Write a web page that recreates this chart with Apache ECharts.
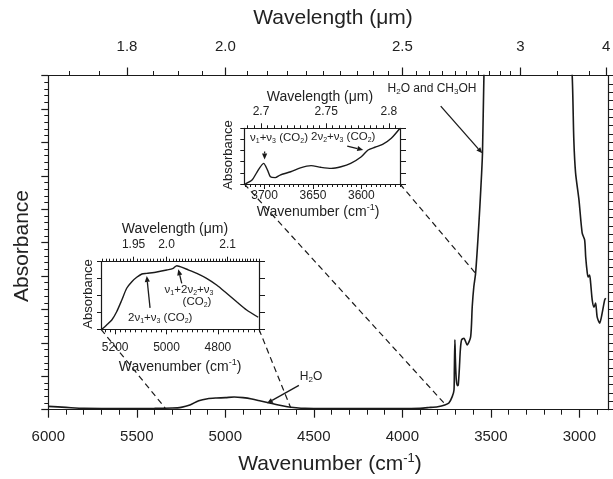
<!DOCTYPE html>
<html><head><meta charset="utf-8">
<script src="https://cdn.jsdelivr.net/npm/echarts@6/dist/echarts.min.js"></script>
<style>html,body{margin:0;padding:0;background:#fff}#c{width:613px;height:479px}</style>
</head><body><div id="c"></div>
<script>
// ---------------- data ----------------
const mainWavenumber = [6000,5900,5800,5600,5400,5300,5250,5200,5150,5100,5050,5000,4950,4900,4850,4800,4750,4700,4650,4600,4550,4500,4200,4000,3900,3850,3800,3760,3737,3718,3708,3706,3703,3700,3695,3688,3684,3678,3672,3665,3652,3634,3614,3605,3596,3586,3573,3562,3552,3547,3539,3530,3060,3040,3031,3021,3002,2984,2970,2964,2955,2950,2942,2936,2927,2917,2908,2899,2885,2871,2857,2851];
const mainAbsorbance = [0.010,0.007,0.004,0.0035,0.004,0.005,0.007,0.014,0.027,0.033,0.035,0.036,0.038,0.036,0.032,0.026,0.020,0.014,0.009,0.006,0.004,0.0035,0.0035,0.0035,0.0045,0.0065,0.009,0.014,0.020,0.039,0.059,0.120,0.209,0.150,0.090,0.072,0.074,0.120,0.180,0.209,0.214,0.194,0.218,0.308,0.368,0.408,0.508,0.607,0.707,0.768,0.996,1.15,1.15,0.996,0.807,0.708,0.628,0.529,0.508,0.457,0.409,0.397,0.403,0.379,0.328,0.307,0.319,0.277,0.259,0.289,0.328,0.334];

const inset1Wavenumber = [3720,3713,3708,3701,3697,3694,3689,3684,3673,3663,3652,3642,3631,3621,3611,3600,3593,3586,3578,3569,3560];
const inset1Absorbance = [0.0,0.07,0.21,0.37,0.25,0.13,0.115,0.16,0.22,0.29,0.33,0.30,0.28,0.31,0.37,0.49,0.61,0.66,0.71,0.82,1.0];

const inset2Wavenumber = [5252,5233,5213,5194,5174,5155,5135,5116,5096,5077,5038,4999,4974,4960,4947,4921,4882,4844,4805,4766,4727,4688,4643];
const inset2Absorbance = [0.0,0.064,0.138,0.26,0.433,0.607,0.704,0.769,0.818,0.828,0.848,0.877,0.902,0.941,0.926,0.888,0.828,0.754,0.655,0.533,0.408,0.286,0.178];

// tick labels
const mainBottomTicks = [6000,5500,5000,4500,4000,3500,3000];
const mainTopLabels = ['1.8','2.0','2.5','3','4'];
const mainTopWavelength = [1.8,2.0,2.5,3,4];
const mainTopMinorWavelength = [1.7,1.75,1.85,1.9,1.95,2.05,2.1,2.15,2.2,2.25,2.3,2.35,2.4,2.45,2.55,2.6,2.65,2.7,2.75,2.8,2.85,2.9,2.95,3.2,3.4];
const inset1BottomTicks = [3700,3650,3600];
const inset1TopLabels = ['2.7','2.75','2.8'];
const inset1TopWavelength = [2.7,2.75,2.8];
const inset2BottomTicks = [5200,5000,4800];
const inset2TopLabels = ['1.95','2.0','2.1'];
const inset2TopWavelength = [1.95,2.0,2.1];

// axis extents (cm-1)
const mainRange = [2834, 6000];
const topEdgeWn = 2848;
const inset1Range = [3560, 3721];
const inset2Range = [4640, 5255];

// ---------------- helpers ----------------
const FONT = '"Liberation Sans", Arial, sans-serif';
const INK = '#1a1a1a';
function steps(a, b, s) { const r = []; for (let v = a; v <= b + 1e-9; v += s) r.push(+v.toFixed(6)); return r; }
function nearestLabel(values, labels) {
  return function (v) { let bi = 0, bd = Infinity; values.forEach((w, i) => { const d = Math.abs(w - v); if (d < bd) { bd = d; bi = i; } }); return labels[bi]; };
}
const wl2wn = l => 10000 / l;
function inRange(arr, r) { return arr.filter(v => v >= r[0] && v <= r[1]); }

function xAxis(grid, range, pos, o) {
  const base = {
    type: 'value', gridIndex: grid, min: range[0], max: range[1], inverse: true, position: pos,
    splitLine: { show: false },
    axisLine: { show: true, onZero: false, lineStyle: { color: INK, width: 1.2 } },
    axisTick: { show: false }, axisLabel: { show: false }
  };
  return Object.assign(base, o);
}
function yAxis(grid, pos, o) {
  const base = {
    type: 'value', gridIndex: grid, min: 0, max: 1, position: pos,
    splitLine: { show: false },
    axisLine: { show: true, onZero: false, lineStyle: { color: INK, width: 1.2 } },
    axisTick: { show: false }, axisLabel: { show: false }
  };
  return Object.assign(base, o);
}
function tick(values, len, w) { return { show: true, customValues: values, length: len, inside: false, lineStyle: { color: INK, width: w || 1 } }; }

// derived tick positions
const mainTopWn = mainTopWavelength.map(l => Math.max(wl2wn(l), topEdgeWn));
const mainTopMinorWn = inRange(mainTopMinorWavelength.map(wl2wn), mainRange);
const mainBottomMinor = inRange(steps(2900, 6000, 100), mainRange);
const in1TopWn = inset1TopWavelength.map(wl2wn);
const in1TopMinorWn = inRange(steps(2.69, 2.81, 0.005).map(wl2wn), inset1Range);
const in1BottomMinor = inRange(steps(3560, 3720, 5), inset1Range);
const in2TopWn = inset2TopWavelength.map(wl2wn);
const in2TopMinorWn = inRange(steps(1.9, 2.16, 0.005).map(wl2wn), inset2Range);
const in2BottomMinor = inRange(steps(4640, 5240, 20), inset2Range);

const gridBase = { containLabel: false, outerBoundsMode: 'none' };
const grids = [
  Object.assign({ left: 48.3, top: 75.5, width: 560.4, height: 334.2 }, gridBase),
  Object.assign({ left: 244.3, top: 128.3, width: 155.7, height: 55.7 }, gridBase),
  Object.assign({ left: 101, top: 261.7, width: 158, height: 67.6 }, gridBase)
];

const lblMain = { fontSize: 15, fontFamily: FONT, color: '#222' };
const lblIn = { fontSize: 12, fontFamily: FONT, color: '#222' };

const xAxes = [
  // main
  xAxis(0, mainRange, 'bottom', { axisTick: tick(mainBottomTicks, 8, 1.2), axisLabel: Object.assign({ show: true, customValues: mainBottomTicks, margin: 20, formatter: v => String(Math.round(v)) }, lblMain) }),
  xAxis(0, mainRange, 'bottom', { axisLine: { show: false, onZero: false }, axisTick: tick(mainBottomMinor, 5, 1) }),
  xAxis(0, mainRange, 'top', { axisTick: tick(mainTopWn, 8, 1.2), axisLabel: Object.assign({ show: true, customValues: mainTopWn, margin: 21, formatter: nearestLabel(mainTopWn, mainTopLabels) }, lblMain) }),
  xAxis(0, mainRange, 'top', { axisLine: { show: false, onZero: false }, axisTick: tick(mainTopMinorWn, 4.5, 1) }),
  // inset 1
  xAxis(1, inset1Range, 'bottom', { axisTick: tick(inset1BottomTicks, 5, 1), axisLabel: Object.assign({ show: true, customValues: inset1BottomTicks, margin: 6, formatter: v => String(Math.round(v)) }, lblIn) }),
  xAxis(1, inset1Range, 'bottom', { axisLine: { show: false, onZero: false }, axisTick: tick(in1BottomMinor, 3, 1) }),
  xAxis(1, inset1Range, 'top', { axisTick: tick(in1TopWn, 5, 1), axisLabel: Object.assign({ show: true, customValues: in1TopWn, margin: 11, formatter: nearestLabel(in1TopWn, inset1TopLabels) }, lblIn) }),
  xAxis(1, inset1Range, 'top', { axisLine: { show: false, onZero: false }, axisTick: tick(in1TopMinorWn, 3, 1) }),
  // inset 2
  xAxis(2, inset2Range, 'bottom', { axisTick: tick(inset2BottomTicks, 5, 1), axisLabel: Object.assign({ show: true, customValues: inset2BottomTicks, margin: 12, formatter: v => String(Math.round(v)) }, lblIn) }),
  xAxis(2, inset2Range, 'bottom', { axisLine: { show: false, onZero: false }, axisTick: tick(in2BottomMinor, 3, 1) }),
  xAxis(2, inset2Range, 'top', { axisTick: tick(in2TopWn, 5, 1), axisLabel: Object.assign({ show: true, customValues: in2TopWn, margin: 11, formatter: nearestLabel(in2TopWn, inset2TopLabels) }, lblIn) }),
  xAxis(2, inset2Range, 'top', { axisLine: { show: false, onZero: false }, axisTick: tick(in2TopMinorWn, 3, 1) })
];

const yAxes = [
  yAxis(0, 'left', { interval: 0.1, axisTick: { show: true, length: 7, lineStyle: { color: INK, width: 1.2 } }, minorTick: { show: true, splitNumber: 5, length: 4, lineStyle: { color: INK, width: 1 } } }),
  yAxis(0, 'right', { interval: 0.025, axisTick: { show: true, length: 5, lineStyle: { color: INK, width: 1 } } }),
  yAxis(1, 'left', { interval: 0.2, axisTick: { show: true, length: 4, lineStyle: { color: INK, width: 1 } } }),
  yAxis(1, 'right', { interval: 0.2, axisTick: { show: true, length: 6, lineStyle: { color: INK, width: 1 } } }),
  yAxis(2, 'left', { interval: 0.25, axisTick: { show: true, length: 4, lineStyle: { color: INK, width: 1 } } }),
  yAxis(2, 'right', { interval: 0.25, axisTick: { show: true, length: 6, lineStyle: { color: INK, width: 1 } } })
];

function lineSeries(name, xi, yi, xs, ys, w) {
  return {
    name, type: 'line', xAxisIndex: xi, yAxisIndex: yi, showSymbol: false, symbol: 'none',
    smooth: 0.25, clip: true, animation: false,
    lineStyle: { color: INK, width: w },
    data: xs.map((x, i) => [x, ys[i]])
  };
}

const chart = echarts.init(document.getElementById('c'), null, { renderer: 'canvas', width: 613, height: 479 });
chart.setOption({
  animation: false,
  backgroundColor: '#fff',
  grid: grids,
  xAxis: xAxes,
  yAxis: yAxes,
  series: [
    lineSeries('main', 0, 0, mainWavenumber, mainAbsorbance, 1.6),
    lineSeries('inset1', 4, 2, inset1Wavenumber, inset1Absorbance, 1.4),
    lineSeries('inset2', 8, 4, inset2Wavenumber, inset2Absorbance, 1.4)
  ]
});

// ---------------- annotations ----------------
const axesOf = { main: { xAxisIndex: 0, yAxisIndex: 0 }, in1: { xAxisIndex: 4, yAxisIndex: 2 }, in2: { xAxisIndex: 8, yAxisIndex: 4 } };
const px = (k, p) => chart.convertToPixel(axesOf[k], p);

const connectors = [
  { from: ['in1', [3721, 0]], to: ['main', [3754, 0.014]] },
  { from: ['in1', [3560, 0]], to: ['main', [3586, 0.408]] },
  { from: ['in2', [5255, 0]], to: ['main', [5340, 0.005]] },
  { from: ['in2', [4640, 0]], to: ['main', [4630, 0.005]] }
];
const arrows = [
  { tip: ['main', [4765, 0.019]], tail: [32, -18] },
  { tip: ['main', [3548, 0.767]], tail: [-41.6, -47.3] },
  { tip: ['in1', [3700, 0.44]], tail: [0, -8] },
  { tip: ['in1', [3598, 0.61]], tail: [-16, -4] },
  { tip: ['in2', [5077, 0.79]], tail: [3.3, 32] },
  { tip: ['in2', [4954, 0.887]], tail: [3.4, 14] }
];

const g = [];
connectors.forEach(c => {
  const a = px(c.from[0], c.from[1]), b = px(c.to[0], c.to[1]);
  g.push({ type: 'line', shape: { x1: a[0], y1: a[1], x2: b[0], y2: b[1] }, style: { stroke: INK, lineWidth: 1.2, lineDash: [6, 4] }, z: 50 });
});
arrows.forEach(ar => {
  const t = px(ar.tip[0], ar.tip[1]);
  const s = [t[0] + ar.tail[0], t[1] + ar.tail[1]];
  const dx = t[0] - s[0], dy = t[1] - s[1], L = Math.hypot(dx, dy), ux = dx / L, uy = dy / L;
  const hl = 6, hw = 2.6;
  const bx = t[0] - ux * hl, by = t[1] - uy * hl;
  g.push({ type: 'line', shape: { x1: s[0], y1: s[1], x2: bx, y2: by }, style: { stroke: INK, lineWidth: 1.3 }, z: 50 });
  g.push({ type: 'polygon', shape: { points: [[t[0], t[1]], [bx - uy * hw, by + ux * hw], [bx + uy * hw, by - ux * hw]] }, style: { fill: INK }, z: 50 });
});

const richSet = (fs) => ({
  sub: { fontSize: Math.round(fs * 0.65), lineHeight: Math.round(fs * 0.65), verticalAlign: 'bottom', fontFamily: FONT, fill: '#222' },
  sup: { fontSize: Math.round(fs * 0.62), lineHeight: Math.round(fs * 0.62), verticalAlign: 'top', fontFamily: FONT, fill: '#222' }
});
function txt(text, x, y, fs, opt) {
  opt = opt || {};
  return {
    type: 'text', x, y, rotation: opt.rot || 0, z: 60,
    style: {
      text, fontSize: fs, fontFamily: FONT, fill: '#222', lineHeight: Math.round(fs * 1.2),
      align: opt.align || 'center', verticalAlign: 'middle', rich: richSet(fs)
    }
  };
}
// main titles
g.push(txt('Wavelength (\u03bcm)', 333, 18, 21));
g.push(txt('Wavenumber (cm{sup|-1})', 330, 464, 21));
g.push(txt('Absorbance', 22, 246, 21, { rot: Math.PI / 2 }));
// inset 1 titles
g.push(txt('Wavelength (\u03bcm)', 320, 97, 14));
g.push(txt('Wavenumber (cm{sup|-1})', 318, 212, 14));
g.push(txt('Absorbance', 228, 155, 13, { rot: Math.PI / 2 }));
// inset 2 titles
g.push(txt('Wavelength (\u03bcm)', 175, 229, 14));
g.push(txt('Wavenumber (cm{sup|-1})', 180, 367, 14));
g.push(txt('Absorbance', 88, 294, 13, { rot: Math.PI / 2 }));
// annotations
g.push(txt('H{sub|2}O', 311, 377, 12));
g.push(txt('H{sub|2}O and CH{sub|3}OH', 432, 89, 12));
g.push(txt('\u03bd{sub|1}+\u03bd{sub|3} (CO{sub|2})', 250, 138, 11.5, { align: 'left' }));
g.push(txt('2\u03bd{sub|2}+\u03bd{sub|3} (CO{sub|2})', 311, 136.5, 11.5, { align: 'left' }));
g.push(txt('2\u03bd{sub|1}+\u03bd{sub|3} (CO{sub|2})', 128, 318, 11.5, { align: 'left' }));
g.push(txt('\u03bd{sub|1}+2\u03bd{sub|2}+\u03bd{sub|3}', 189, 289.5, 11.5));
g.push(txt('(CO{sub|2})', 197, 302, 11.5));

chart.setOption({ graphic: g });
</script>
</body></html>
